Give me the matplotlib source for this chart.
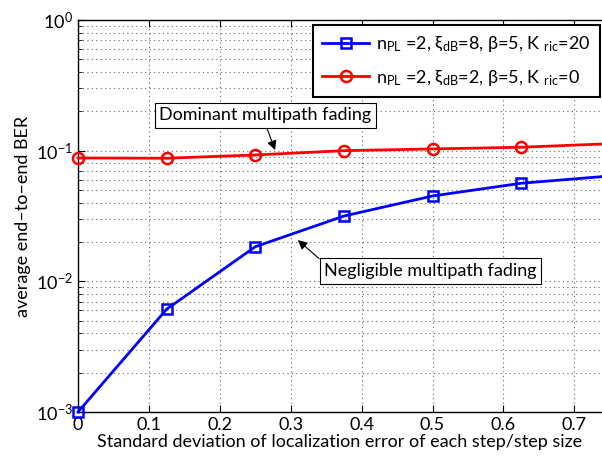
import matplotlib
matplotlib.use("Agg")
import matplotlib.pyplot as plt
import numpy as np

plt.rcParams['font.family'] = ['Lato', 'DejaVu Sans']
plt.rcParams['mathtext.fontset'] = 'custom'
plt.rcParams['mathtext.rm'] = 'Lato'
plt.rcParams['mathtext.it'] = 'Lato:italic'
plt.rcParams['mathtext.bf'] = 'Lato:bold'
plt.rcParams['mathtext.default'] = 'regular'

x = [0, 0.125, 0.25, 0.375, 0.5, 0.625, 0.75]
ber_negligible = [0.001, 0.00612, 0.0184, 0.0316, 0.0450, 0.0563, 0.064]
ber_dominant = [0.0879, 0.0875, 0.0927, 0.1000, 0.1031, 0.1062, 0.113]
label_neg = r'n$_{PL}$ =2, $\xi_{dB}$=8, $\beta$=5, K $_{ric}$=20'
label_dom = r'n$_{PL}$ =2, $\xi_{dB}$=2, $\beta$=5, K $_{ric}$=0'
xticks = [0, 0.1, 0.2, 0.3, 0.4, 0.5, 0.6, 0.7]
xticklabels = ['0', '0.1', '0.2', '0.3', '0.4', '0.5', '0.6', '0.7']

FS = 13

fig = plt.figure(figsize=(6.02, 4.58), dpi=100)
ax = fig.add_axes([78/602, 46/458, 1 - 78/602, (412-20)/458])

ax.semilogy(x, ber_negligible, '-s', color='#0000ff', lw=2, ms=7, mfc='none', mew=1.8,
            label=label_neg, zorder=5, clip_on=False)
ax.semilogy(x, ber_dominant, '-o', color='#ff0000', lw=2, ms=8, mfc='none', mew=1.8,
            label=label_dom, zorder=5, clip_on=False)

ax.set_xlim(0, 0.739)
ax.set_ylim(1e-3, 1)
ax.set_xticks(xticks)
ax.set_xticklabels(xticklabels)
ax.tick_params(axis='both', which='both', direction='in', top=True, right=False, labelsize=FS)
ax.tick_params(axis='both', which='major', length=5)
ax.tick_params(axis='y', which='minor', length=3)
ax.spines['right'].set_visible(False)
for s in ['left', 'bottom', 'top']:
    ax.spines[s].set_linewidth(1.0)

ax.grid(True, which='major', axis='both', linestyle=(0, (1, 3)), color='#666666', lw=0.8)
ax.grid(True, which='minor', axis='y', linestyle=(0, (1, 3)), color='#666666', lw=0.8)
ax.set_axisbelow(True)

ax.set_xlabel('Standard deviation of localization error of each step/step size', fontsize=FS, labelpad=1)
ax.set_ylabel('average end\u2013to\u2013end BER', fontsize=FS, labelpad=4)

leg = ax.legend(loc='upper left', bbox_to_anchor=(0.449, 0.987), fontsize=FS, frameon=True,
                fancybox=False, edgecolor='black', framealpha=1, handlelength=2.6,
                borderpad=0.5, labelspacing=0.75, handletextpad=0.4, borderaxespad=0)
leg.get_frame().set_linewidth(1.5)
leg.set_zorder(10)

ax.annotate('Dominant multipath fading', xy=(0.278, 0.101), xytext=(0.264, 0.186),
            fontsize=FS, ha='center', va='center', zorder=8,
            bbox=dict(boxstyle='square,pad=0.25', fc='white', ec='black', lw=0.8),
            arrowprops=dict(arrowstyle='-|>', color='black', lw=0.8, mutation_scale=14,
                            shrinkA=0, shrinkB=0, relpos=(0.5, 0)))
ax.annotate('Negligible multipath fading', xy=(0.310, 0.0207), xytext=(0.497, 0.0120),
            fontsize=FS, ha='center', va='center', zorder=8,
            bbox=dict(boxstyle='square,pad=0.25', fc='white', ec='black', lw=0.8),
            arrowprops=dict(arrowstyle='-|>', color='black', lw=0.8, mutation_scale=14,
                            shrinkA=0, shrinkB=0, relpos=(0, 1)))

fig.savefig('out.png', dpi=100)
